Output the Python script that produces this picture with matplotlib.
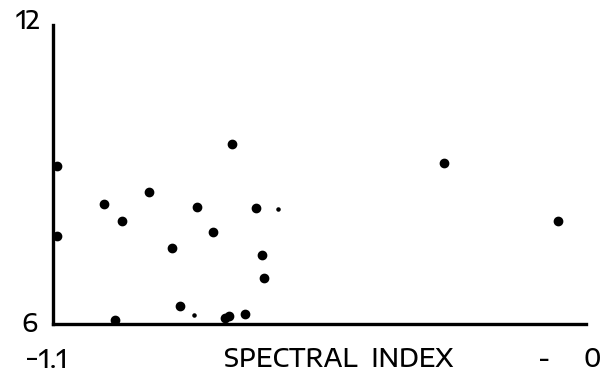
import numpy as np
import matplotlib.pyplot as plt

# spectral index vs y value
spec_index = [-1.092, -1.092, -0.994, -0.957, -0.901, -0.972, -0.854, -0.838,
              -0.802, -0.770, -0.730, -0.745, -0.736, -0.704, -0.682, -0.669,
              -0.664, -0.294, -0.057]
yvals = [9.18, 7.77, 8.41, 8.07, 8.64, 6.09, 7.52, 6.37,
         8.34, 7.85, 9.61, 6.13, 6.16, 6.21, 8.32, 7.39,
         6.92, 9.23, 8.07]
# two tiny specks in the original
small_x = [-0.808, -0.636]
small_y = [6.18, 8.31]

plt.rcParams['font.family'] = ['Encode Sans Expanded', 'DejaVu Sans']
plt.rcParams['font.weight'] = 'medium'

fig = plt.figure(figsize=(6.05, 3.77), dpi=100)
ax = fig.add_axes([53/605, 1-324/377, (586-53)/605, (324-25)/377])

ax.scatter(spec_index, yvals, s=36, color='black', zorder=3, clip_on=False)
ax.scatter(small_x, small_y, s=5, color='black', zorder=3)

ax.set_xlim(-1.1, 0)
ax.set_ylim(6, 12)
for s in ['top', 'right']:
    ax.spines[s].set_visible(False)
for s in ['left', 'bottom']:
    ax.spines[s].set_linewidth(2.4)
ax.set_xticks([])
ax.set_yticks([])

fs = 17.5
ytr = ax.get_yaxis_transform()
ax.text(-0.047, 12.06, '12', transform=ytr, ha='center', va='center', fontsize=fs)
ax.text(-0.045, 5.97, '6', transform=ytr, ha='center', va='center', fontsize=fs)
ax.text(-0.013, -0.124, '\u22121.1', transform=ax.transAxes, ha='center', va='center', fontsize=fs)
ax.text(0.535, -0.12, 'SPECTRAL  INDEX', transform=ax.transAxes, ha='center', va='center', fontsize=fs)
ax.text(0.921, -0.12, '-', transform=ax.transAxes, ha='center', va='center', fontsize=fs)
ax.text(1.011, -0.12, '0', transform=ax.transAxes, ha='center', va='center', fontsize=fs)

fig.savefig('out.png', dpi=100)
